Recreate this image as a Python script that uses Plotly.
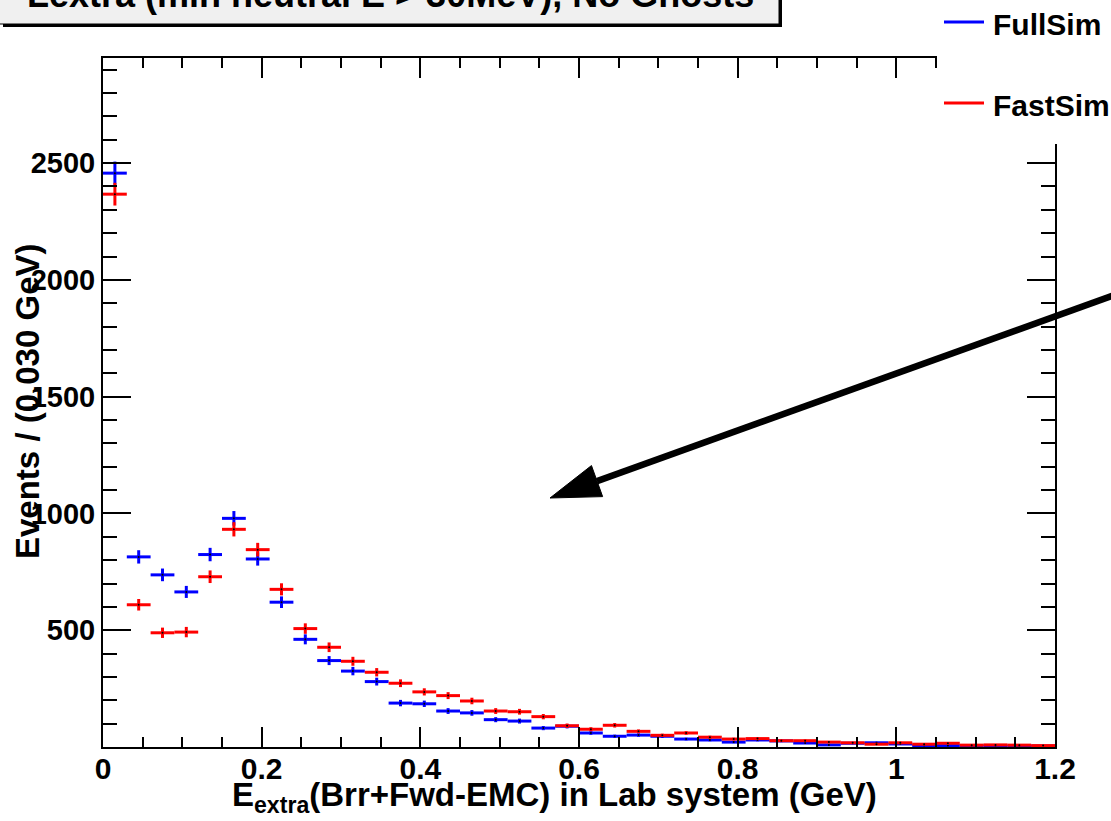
import numpy as np
import plotly.graph_objects as go

# ---------------- data ----------------
bin_width = 0.03
bin_centers = [round(0.015 + 0.03 * i, 3) for i in range(40)]

fullsim = [2457, 814, 737, 664, 824, 979, 805, 620, 461, 370,
           325, 280, 188, 185, 154, 146, 117, 111, 81, 89,
           60, 46, 51, 46, 34, 30, 21, 30, 26, 17,
           9, 16, 18, 13, 6, 6, 5, 5, 4, 4]
fastsim = [2367, 609, 489, 492, 729, 932, 845, 675, 507, 427,
           367, 320, 273, 236, 220, 197, 154, 151, 130, 91,
           76, 93, 67, 50, 60, 42, 34, 36, 27, 27,
           21, 18, 12, 18, 12, 16, 8, 9, 8, 6]

x_tickvals = [0, 0.2, 0.4, 0.6, 0.8, 1.0, 1.2]
x_ticktext = ["0", "0.2", "0.4", "0.6", "0.8", "1", "1.2"]
y_tickvals = [500, 1000, 1500, 2000, 2500]
y_ticktext = ["500", "1000", "1500", "2000", "2500"]

title_text = "Lextra (min neutral E > 30MeV), No Ghosts"
x_title = "E<sub>extra</sub>(Brr+Fwd-EMC) in Lab system (GeV)"
y_title = "Events / (0.030 GeV)"
series_names = ["FullSim", "FastSim"]
series_colors = ["#0000ff", "#ff0000"]

# ---------------- layout geometry (pixels) ----------------
W, H = 1111, 821
L, R, T, B = 103, 1055, 58, 747
FONT = "Liberation Sans, Arial, Helvetica, sans-serif"


def px(x):
    return (x - L) / (R - L)


def py(y):
    return (B - y) / (B - T)


fig = go.Figure()

for name, vals, col in zip(series_names, [fullsim, fastsim], series_colors):
    fig.add_trace(go.Scatter(
        x=bin_centers, y=vals, mode="markers", name=name,
        marker=dict(color="black", size=2, symbol="circle"),
        error_x=dict(type="constant", value=bin_width / 2, color=col,
                     thickness=3, width=0),
        error_y=dict(type="data", array=np.sqrt(vals), color=col,
                     thickness=3, width=0),
        showlegend=False,
    ))

axis_common = dict(
    showline=True, linecolor="black", linewidth=2, mirror="ticks",
    ticks="inside", tickcolor="black", tickwidth=2,
    showgrid=False, zeroline=False,
)

fig.update_xaxes(
    range=[0, 1.2], tickmode="array", tickvals=x_tickvals, ticktext=x_ticktext,
    ticklen=20, ticklabelstandoff=-6,
    minor=dict(dtick=0.05, ticklen=10, ticks="inside", tickcolor="black",
               tickwidth=2, showgrid=False),
    tickfont=dict(family=FONT, size=30, color="black", weight="bold"),
    **axis_common,
)
fig.update_yaxes(
    range=[0, 2950], tickmode="array", tickvals=y_tickvals, ticktext=y_ticktext,
    ticklen=28,
    minor=dict(dtick=100, ticklen=14, ticks="inside", tickcolor="black",
               tickwidth=2, showgrid=False),
    tickfont=dict(family=FONT, size=29, color="black", weight="bold"),
    **axis_common,
)

shapes = []
annotations = []

# title box with shadow
shapes.append(dict(type="rect", xref="paper", yref="paper", layer="above",
                   x0=px(3), x1=px(782), y0=py(27), y1=py(-20),
                   fillcolor="black", line=dict(width=0)))
shapes.append(dict(type="rect", xref="paper", yref="paper", layer="above",
                   x0=px(-5), x1=px(779), y0=py(24), y1=py(-20),
                   fillcolor="#f0f0f0", line=dict(color="black", width=1)))
annotations.append(dict(xref="paper", yref="paper", x=px(25), y=py(17),
                        xanchor="left", yanchor="bottom", showarrow=False,
                        text=title_text,
                        font=dict(family=FONT, size=36, color="black", weight="bold")))

# legend (white box covering frame corner)
shapes.append(dict(type="rect", xref="paper", yref="paper", layer="above",
                   x0=px(937), x1=px(1125), y0=py(144), y1=py(-10),
                   fillcolor="white", line=dict(width=0)))
for name, col, yl in zip(series_names, series_colors, [22, 103]):
    shapes.append(dict(type="line", xref="paper", yref="paper", layer="above",
                       x0=px(944), x1=px(984), y0=py(yl), y1=py(yl),
                       line=dict(color=col, width=3)))
    annotations.append(dict(xref="paper", yref="paper", x=px(991), y=py(yl + 2),
                            xanchor="left", yanchor="middle", showarrow=False,
                            text=name,
                            font=dict(family=FONT, size=30, color="black", weight="bold")))

# big arrow
tip = (550, 498)
d = np.array([1.0, -0.3595])
d = d / np.linalg.norm(d)
n = np.array([-d[1], d[0]])
base = np.array(tip) + 50 * d
c1 = base + 16.5 * n
c2 = base - 16.5 * n
tail = np.array(tip) + 800 * d
shapes.append(dict(type="line", xref="paper", yref="paper", layer="above",
                   x0=px(base[0]), y0=py(base[1]), x1=px(tail[0]), y1=py(tail[1]),
                   line=dict(color="black", width=6.5)))
path = "M {:.5f},{:.5f} L {:.5f},{:.5f} L {:.5f},{:.5f} Z".format(
    px(tip[0]), py(tip[1]), px(c1[0]), py(c1[1]), px(c2[0]), py(c2[1]))
shapes.append(dict(type="path", xref="paper", yref="paper", layer="above",
                   path=path, fillcolor="black", line=dict(color="black", width=1)))

# axis titles
annotations.append(dict(xref="paper", yref="paper", x=px(554), y=py(774),
                        xanchor="center", yanchor="top", showarrow=False,
                        text=x_title,
                        font=dict(family=FONT, size=33, color="black", weight="bold")))
annotations.append(dict(xref="paper", yref="paper", x=px(27), y=py(402),
                        xanchor="center", yanchor="middle", showarrow=False,
                        textangle=-90, text=y_title,
                        font=dict(family=FONT, size=33, color="black", weight="bold")))

fig.update_layout(
    width=W, height=H,
    margin=dict(l=L, r=W - R, t=T, b=H - B, pad=0),
    plot_bgcolor="white", paper_bgcolor="white",
    shapes=shapes, annotations=annotations,
    showlegend=False,
)

fig.write_html("out.html")
